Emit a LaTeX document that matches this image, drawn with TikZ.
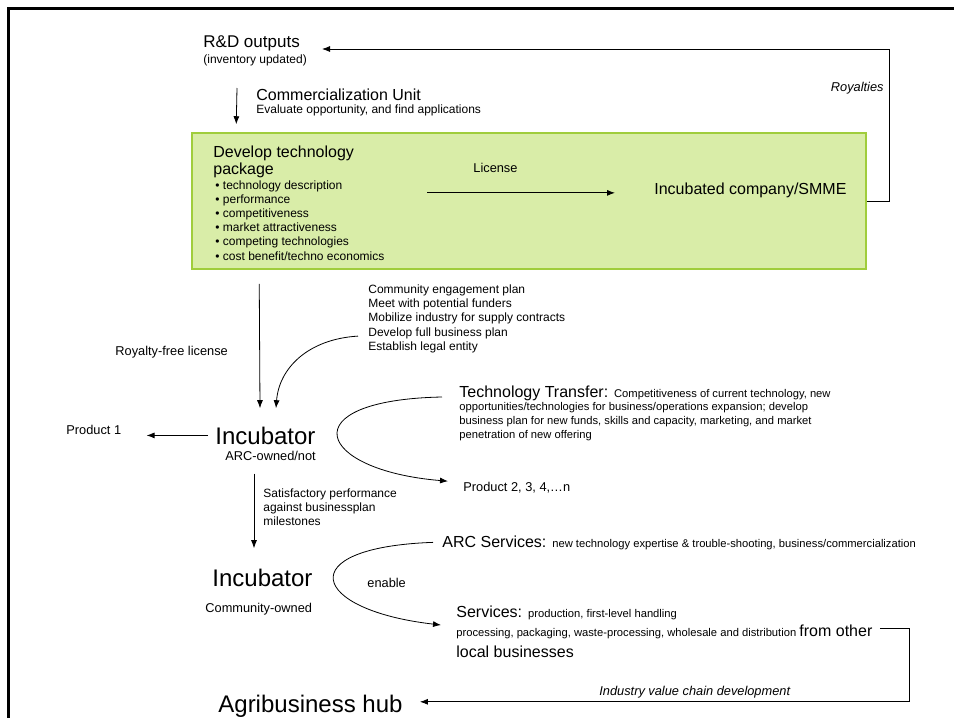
\documentclass[tikz,border=0pt]{standalone}
\usepackage{fontspec}
\setmainfont{Liberation Sans}
\usetikzlibrary{positioning, calc}
\usetikzlibrary{arrows, arrows.meta}
\tikzset{>={Latex[length=8pt,width=6pt]}}
\definecolor{pkggreen}{RGB}{217,237,168}
\definecolor{pkgborder}{RGB}{160,205,60}
\newcommand{\hdfont}{\fontsize{16}{19}\selectfont}
\newcommand{\detailfont}{\fontsize{11.2}{13.5}\selectfont}

\begin{document}
\begin{tikzpicture}[x=1pt, y=-1pt, line width=0.8pt,
  every node/.style={inner sep=0pt},
  headtxt/.style={font=\hdfont, anchor=base west},
  bigtxt/.style={font=\fontsize{24}{28}\selectfont, anchor=base west},
  labeltxt/.style={font=\fontsize{12.8}{15}\selectfont, anchor=base west},
  smalltxt/.style={font=\fontsize{12}{14}\selectfont, anchor=base west},
  detailtxt/.style={font=\detailfont, anchor=base west}]
  \useasboundingbox (0,0) rectangle (954,718);
  % slide frame
  \draw[line width=2.5pt] (8.5,718) -- (8.5,8.5) -- (954,8.5);

  % R&D and commercialization
  \node[headtxt, font=\fontsize{17}{20}\selectfont] (rd) at (203,47) {R\&D outputs};
  \node[smalltxt] (inv) at (203,63) {(inventory updated)};
  \node[headtxt] (cu) at (256,100) {Commercialization Unit};
  \node[smalltxt] (eval) at (256,113) {Evaluate opportunity, and find applications};

  % technology package box
  \node[draw=pkgborder, line width=1.5pt, fill=pkggreen,
        minimum width=674pt, minimum height=136pt] (pkg) at (529,201) {};
  \node[headtxt] (dev) at (213,157) {Develop technology};
  \node[headtxt] (pack) at (213,174) {package};
  \foreach \t [count=\i from 0] in {technology description, performance,
      competitiveness, market attractiveness, competing technologies,
      cost benefit/techno economics}
    \node[smalltxt] (b\i) at (215, {189+14.2*\i}) {• \t};
  \node[labeltxt] (lic) at (473,172) {License};
  \node[headtxt] (inc) at (654,194) {Incubated company/SMME};
  \draw[->] ([xshift=-227pt, yshift=-3pt]inc.west) -- ([xshift=-39pt, yshift=-3pt]inc.west);

  % royalties back to R&D
  \coordinate (rdin) at (322,49);
  \draw[->] (pkg.east) -- ++(23,0) |- (rdin);
  \node[labeltxt, anchor=base east] (roy) at (884,91) {\itshape Royalties};
  \draw[->] ([xshift=34pt, yshift=-41pt]rd.base west) -- ([xshift=45pt, yshift=8pt]pkg.north west);

  % first incubator
  \node[bigtxt] (inc1) at (215,444) {Incubator};
  \node[labeltxt] (own1) at (225,460) {ARC-owned/not};
  \node[labeltxt] (p1) at (66,434) {Product 1};
  \draw[->, shorten <=7pt, shorten >=25pt] (inc1.west) -- (inc1.west -| p1.east);
  \node[labeltxt] (rfl) at (115,355) {Royalty-free license};
  \draw[->] ([xshift=68pt, yshift=-14pt]pkg.south west) -- ([xshift=45pt, yshift=18pt]inc1.north west);
  \foreach \t [count=\i from 0] in {Community engagement plan, Meet with potential funders,
      Mobilize industry for supply contracts, Develop full business plan, Establish legal entity}
    \node[smalltxt] (cl\i) at (368, {293+14.4*\i}) {\t};
  \draw[->] ([xshift=-10pt, yshift=-3pt]cl3.west) .. controls +(-50,3) and +(3,-40) .. ([xshift=61pt, yshift=18pt]inc1.north west);

  % technology transfer
  \node[headtxt] (tt) at (459,397) {Technology Transfer: {\detailfont Competitiveness of current technology, new}};
  \foreach \t [count=\i] in {{opportunities/technologies for business/operations expansion; develop},
      {business plan for new funds, skills and capacity, marketing, and market},
      {penetration of new offering}}
    \node[detailtxt] (tt\i) at (459, {397+13.8*\i}) {\t};
  \node[labeltxt] (p2) at (463,491) {Product 2, 3, 4,…n};
  \draw[->] ([xshift=-17pt]tt.base west) .. controls +(-152,3) and +(-133,-11) .. ([xshift=-15pt, yshift=6pt]p2.west);

  % second incubator
  \foreach \t [count=\i from 0] in {Satisfactory performance, against businessplan, milestones}
    \node[smalltxt] (sat\i) at (263, {497+14*\i}) {\t};
  \node[bigtxt] (inc2) at (212,586) {Incubator};
  \node[labeltxt] (own2) at (205,612) {Community-owned};
  \draw[->, shorten <=29pt, shorten >=20pt] ([xshift=39pt]inc1.south west) -- ([xshift=42pt]inc2.north west);

  % services
  \node[headtxt] (arc) at (442,547) {ARC Services: {\detailfont new technology expertise \& trouble-shooting, business/commercialization}};
  \node[labeltxt] (en) at (367,587) {enable};
  \node[headtxt] (srv) at (456,617) {Services: {\detailfont production, first-level handling}};
  \node[detailtxt] (srv2) at (456,636) {processing, packaging, waste-processing, wholesale and distribution {\hdfont from other}};
  \node[headtxt] (srv3) at (456,657) {local businesses};
  \draw[->] ([xshift=-9pt]arc.west) .. controls +(-143,5) and +(-131,-15) .. ([xshift=-15pt, yshift=-8pt]srv.base west);

  % agribusiness hub
  \node[bigtxt] (agri) at (218,712) {Agribusiness hub};
  \node[labeltxt] (ivc) at (599,695) {\itshape Industry value chain development};
  \draw[->, shorten >=17pt] ([xshift=7pt, yshift=3pt]srv2.east) -- ([xshift=37pt, yshift=3pt]srv2.east) |- ([yshift=4pt]agri.east);
\end{tikzpicture}
\end{document}
